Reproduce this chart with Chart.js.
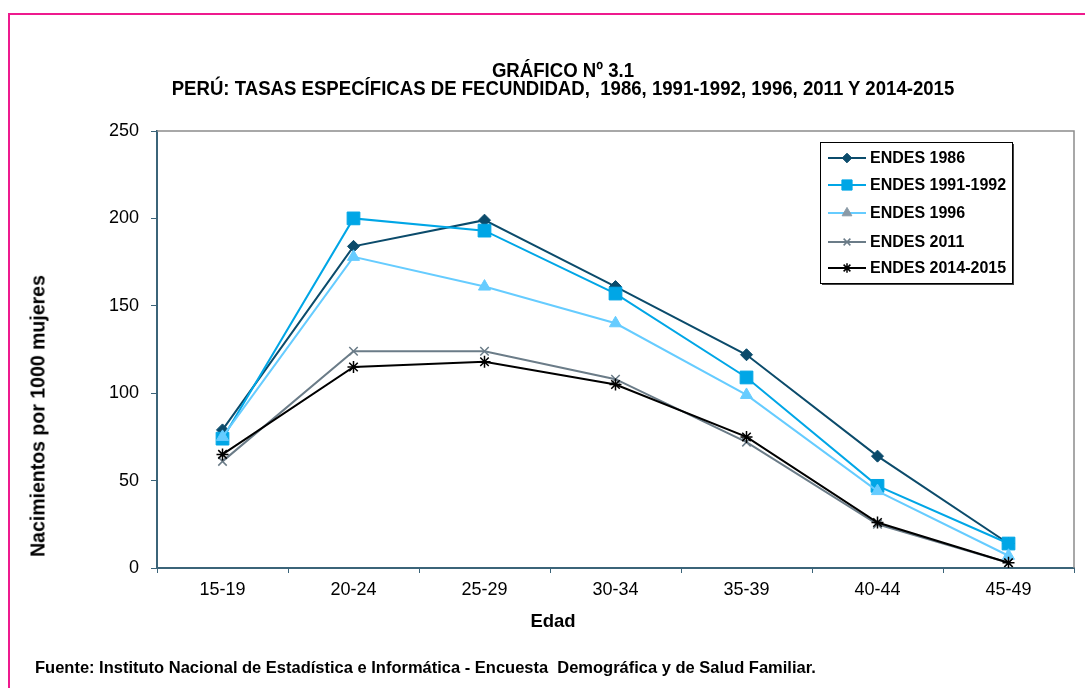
<!DOCTYPE html>
<html lang="es">
<head>
<meta charset="utf-8">
<title>Gráfico Nº 3.1</title>
<script src="https://cdn.jsdelivr.net/npm/chart.js@4.4.1/dist/chart.umd.min.js"></script>
<style>
  html, body { margin: 0; padding: 0; background: #fff; }
  #wrap { position: relative; width: 1085px; height: 688px; overflow: hidden; }
  #frame { position: absolute; left: 8px; top: 13px; width: 1200px; height: 800px;
           border-top: 2px solid #ee1a8e; border-left: 2px solid #ee1a8e; }
  canvas { position: absolute; left: 0; top: 0; }
  .bold { font-family: "Liberation Sans", Arial, sans-serif; font-weight: bold; color: #000; white-space: nowrap; }
  #title { position: absolute; left: 0; width: 1126px; top: 61px; text-align: center;
           font-size: 20px; line-height: 18px; transform: scaleX(0.93); transform-origin: 563px 0; }
  #source { position: absolute; left: 35px; top: 658px; font-size: 17px; transform: scaleX(0.97); transform-origin: 0 0; }
  #ytitle { position: absolute; left: 38px; top: 416px; transform: translate(-50%, -50%) rotate(-90deg);
            font-size: 19.5px; }
  #xtitle { position: absolute; left: 553px; top: 621px; transform: translate(-50%, -50%); font-size: 18.5px; }
</style>
</head>
<body>
<div id="wrap">
  <div id="frame"></div>
  <canvas id="chart" width="1085" height="688"></canvas>
  <div id="title" class="bold">GRÁFICO Nº 3.1<br>PERÚ: TASAS ESPECÍFICAS DE FECUNDIDAD,&nbsp; 1986, 1991-1992, 1996, 2011 Y 2014-2015</div>
  <div id="ytitle" class="bold">Nacimientos por 1000 mujeres</div>
  <div id="xtitle" class="bold">Edad</div>
  <div id="source" class="bold">Fuente: Instituto Nacional de Estadística e Informática - Encuesta&nbsp; Demográfica y de Salud Familiar.</div>
</div>
<script>
// age groups and rates (births per 1000 women)
const ageGroups = ['15-19', '20-24', '25-29', '30-34', '35-39', '40-44', '45-49'];
const endes1986 = [79, 184, 199, 161, 122, 64, 14];
const endes1991 = [74, 200, 193, 157, 109, 47, 14];
const endes1996 = [75, 178, 161, 140, 99, 44, 7];
const endes2011 = [61, 124, 124, 108, 72, 25, 3];
const endes2014 = [65, 115, 118, 105, 75, 26, 3];
const yTicks = [0, 50, 100, 150, 200, 250];

Chart.defaults.font.family = "'Liberation Sans', Arial, sans-serif";
Chart.defaults.color = '#000';

function series(label, data, color, style, radius, order, markerWidth) {
  return {
    label, data, order,
    borderColor: color,
    backgroundColor: color,
    borderWidth: 2,
    tension: 0,
    pointStyle: style,
    pointRadius: radius,
    pointHoverRadius: radius,
    pointBackgroundColor: color,
    pointBorderColor: color,
    pointBorderWidth: markerWidth
  };
}

// the legend in the original shows a grey marker for 1996
const legendMarkerColor = { 'ENDES 1996': '#8a9aa6' };

// plot frame (top/right) and boxed legend inside the plot
const frameAndLegend = {
  id: 'frameAndLegend',
  beforeDatasetsDraw(chart) {
    const { ctx, chartArea: a } = chart;
    ctx.save();
    ctx.strokeStyle = '#8c8c8c';
    ctx.lineWidth = 1.5;
    ctx.beginPath();
    ctx.moveTo(a.left, a.top);
    ctx.lineTo(a.right, a.top);
    ctx.lineTo(a.right, a.bottom);
    ctx.stroke();
    ctx.restore();
  },
  afterDraw(chart) {
    const { ctx, chartArea: a } = chart;
    const left = a.right - 254, top = a.top + 11, w = 192, h = 141;
    ctx.save();
    ctx.fillStyle = '#444';
    ctx.fillRect(left + 2, top + 2, w, h);
    ctx.fillStyle = '#fff';
    ctx.fillRect(left, top, w, h);
    ctx.strokeStyle = '#000';
    ctx.lineWidth = 1;
    ctx.strokeRect(left + 0.5, top + 0.5, w, h);

    const rows = [16, 43, 71, 100, 126];
    chart.data.datasets.forEach((ds, i) => {
      const y = top + rows[i];
      ctx.strokeStyle = ds.borderColor;
      ctx.lineWidth = 2;
      ctx.beginPath();
      ctx.moveTo(left + 8, y);
      ctx.lineTo(left + 46, y);
      ctx.stroke();
      const mc = legendMarkerColor[ds.label];
      ctx.fillStyle = mc || ds.pointBackgroundColor;
      ctx.strokeStyle = mc || ds.pointBorderColor;
      ctx.lineWidth = ds.pointBorderWidth;
      Chart.helpers.drawPoint(ctx, {
        pointStyle: ds.pointStyle,
        radius: ds.pointRadius * 0.8,
        rotation: 0,
        borderWidth: ds.pointBorderWidth
      }, left + 27, y);
      ctx.fillStyle = '#000';
      ctx.font = "bold 16px 'Liberation Sans', Arial, sans-serif";
      ctx.textBaseline = 'middle';
      ctx.textAlign = 'left';
      ctx.fillText(ds.label, left + 50, y + 1);
    });
    ctx.restore();
  }
};

const axisColor = '#3b6479';

new Chart(document.getElementById('chart'), {
  type: 'line',
  data: {
    labels: ageGroups,
    datasets: [
      series('ENDES 1986', endes1986, '#0b4b6b', 'rectRot', 6, 5, 1),
      series('ENDES 1991-1992', endes1991, '#00a6e6', 'rect', 9, 4, 1),
      series('ENDES 1996', endes1996, '#66ccff', 'triangle', 7, 3, 1),
      series('ENDES 2011', endes2011, '#6b7c88', 'crossRot', 6, 2, 1.5),
      series('ENDES 2014-2015', endes2014, '#000000', 'star', 6, 1, 1.5)
    ]
  },
  options: {
    responsive: false,
    animation: false,
    layout: { padding: { left: 20, right: 11, top: 131, bottom: 40 } },
    plugins: {
      legend: { display: false },
      title: { display: false },
      tooltip: { enabled: false }
    },
    scales: {
      x: {
        offset: true,
        afterFit(scale) { scale.height = 80; },
        grid: { offset: true, drawOnChartArea: false, drawTicks: true, tickLength: 5, color: axisColor },
        border: { color: axisColor, width: 2 },
        ticks: { font: { size: 18 }, padding: 6, color: '#000' }
      },
      y: {
        min: 0,
        max: 250,
        afterFit(scale) { scale.width = 137; },
        afterBuildTicks(scale) { scale.ticks = yTicks.map(v => ({ value: v })); },
        grid: { drawOnChartArea: false, drawTicks: true, tickLength: 6, color: axisColor },
        border: { color: axisColor, width: 2 },
        ticks: { font: { size: 18 }, padding: 12, color: '#000' }
      }
    }
  },
  plugins: [frameAndLegend]
});
</script>
</body>
</html>
